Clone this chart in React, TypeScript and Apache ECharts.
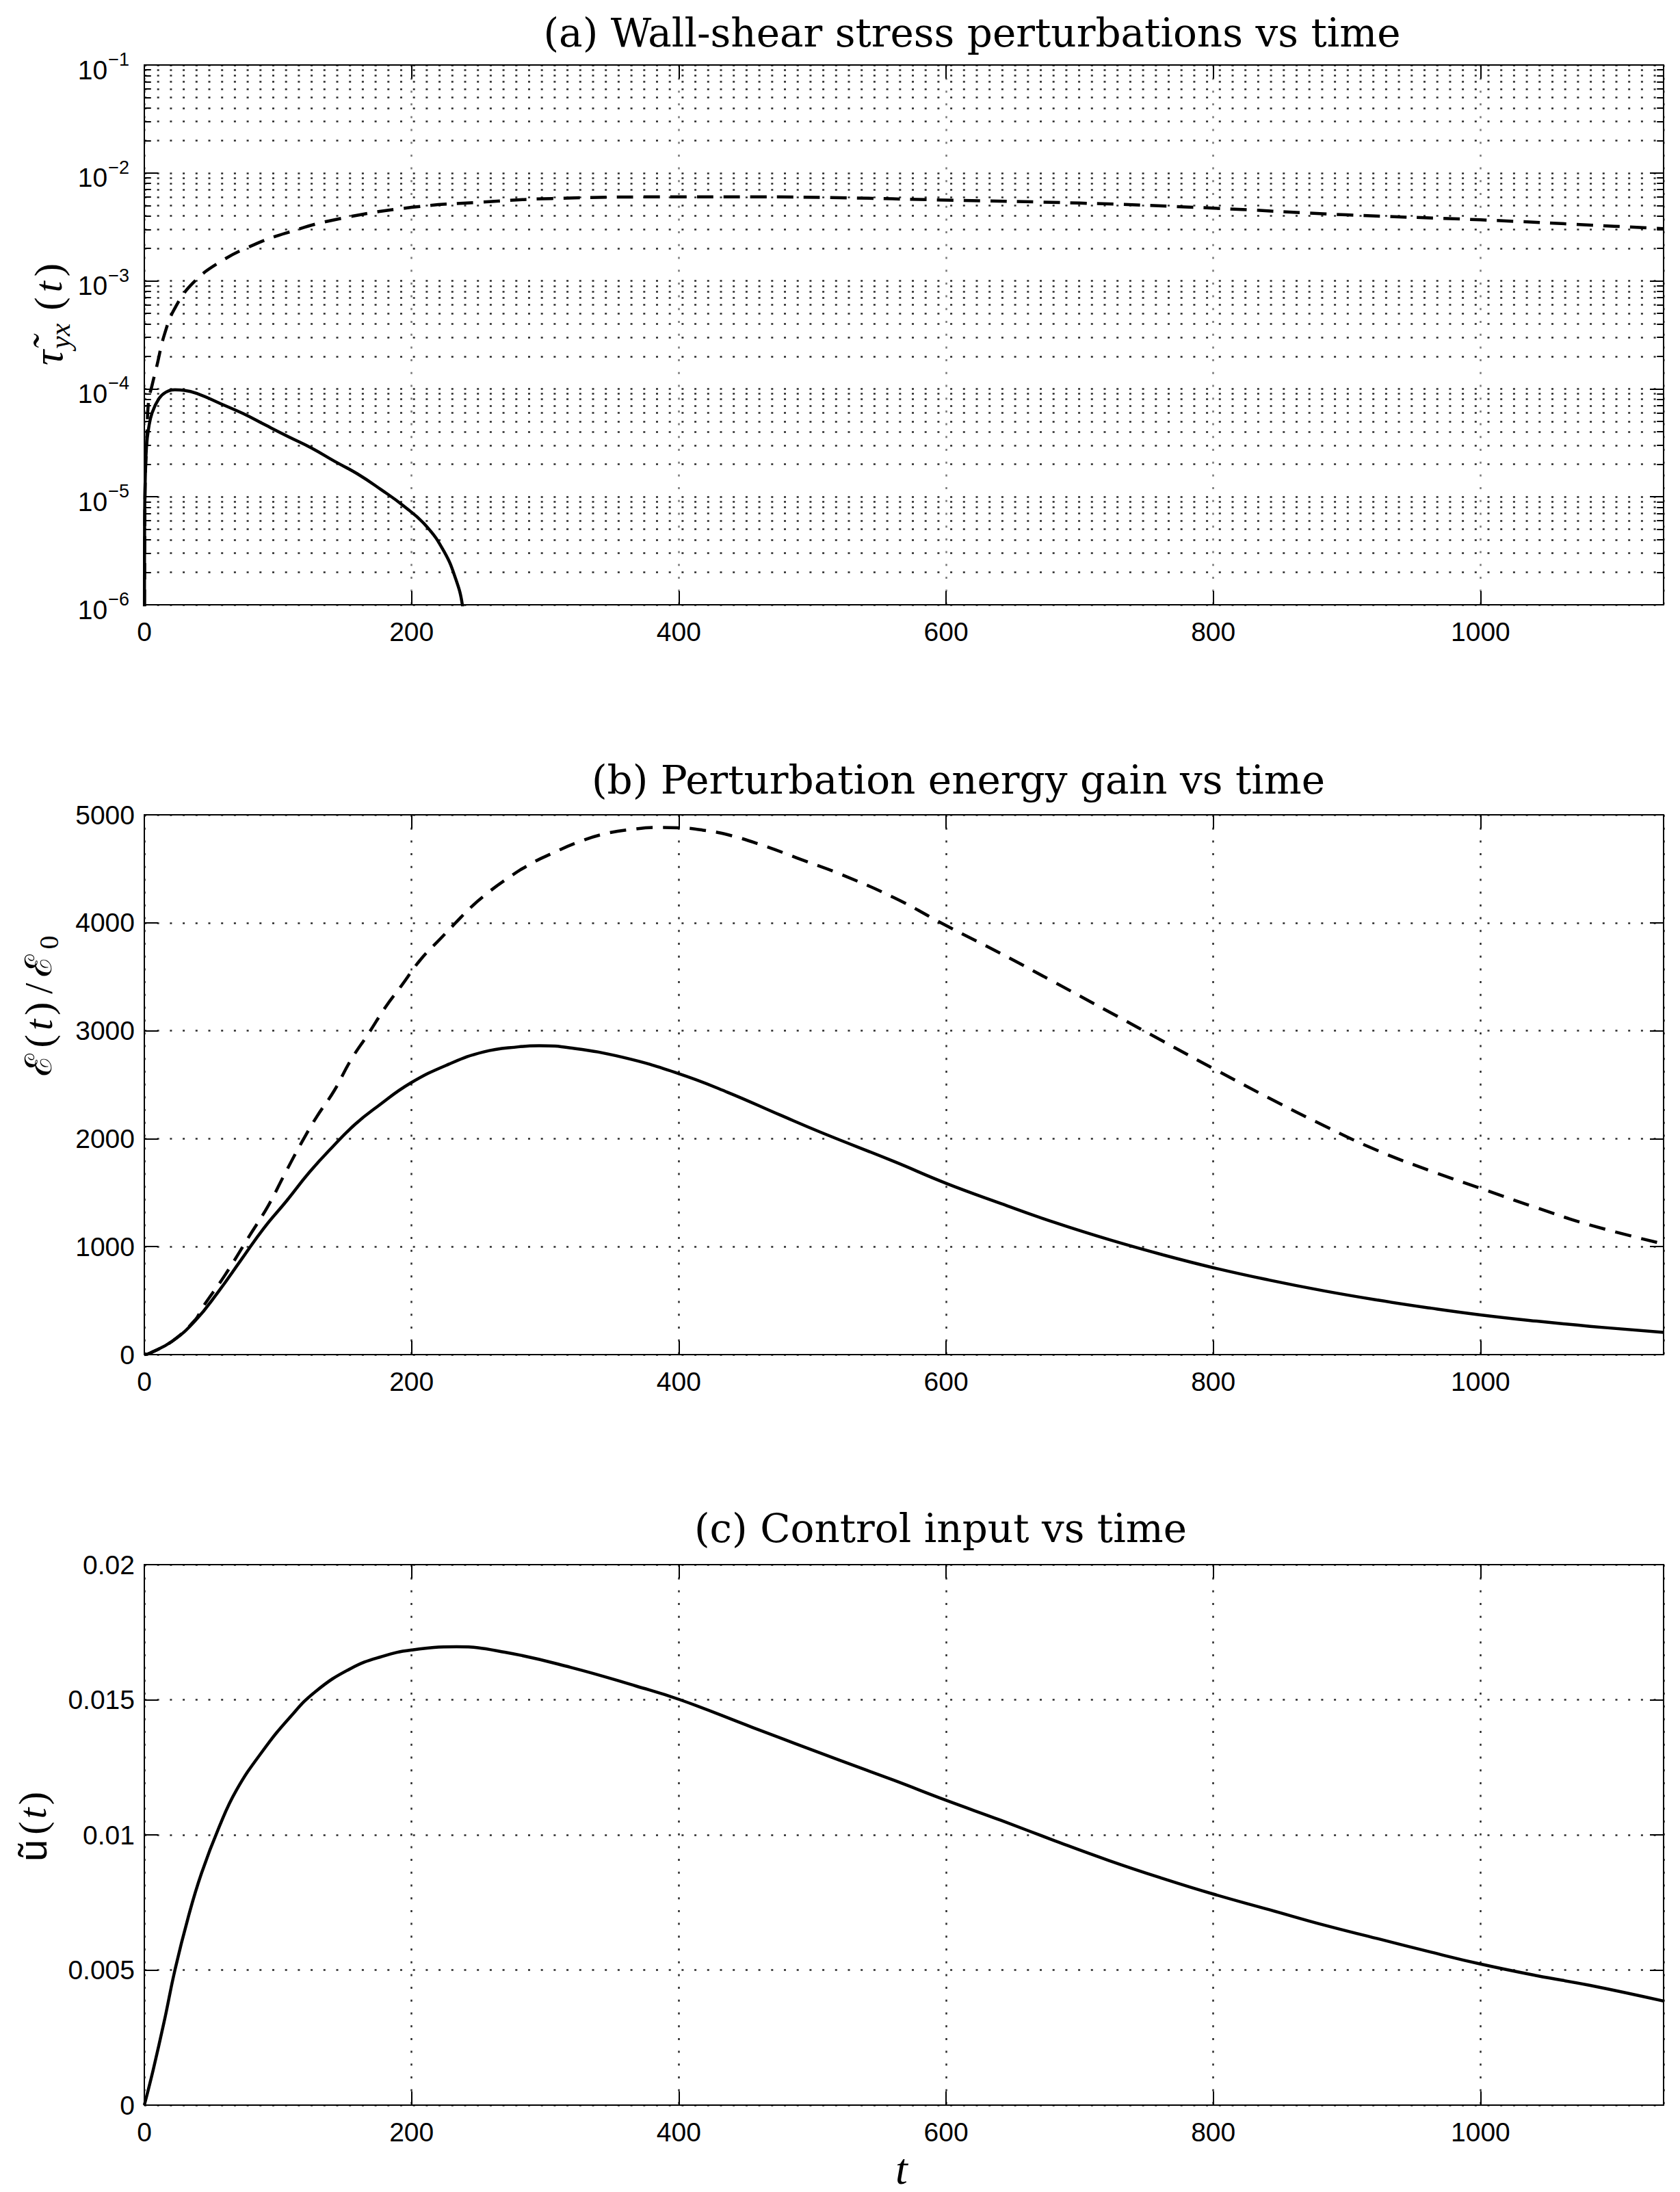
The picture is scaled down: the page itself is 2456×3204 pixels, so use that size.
import React, { useEffect, useRef } from 'react';
import * as echarts from 'echarts';

const W = 2456;
const H = 3204;
const T_MAX = 1137;
const X_STEP = 200;

// (a) wall-shear stress perturbations (log scale)
const tauSolidT = [0, 0.2, 0.7, 1.6, 3.2, 5.8, 10.9, 16, 22.9, 29.7, 40, 57, 74, 91, 108, 125, 142.5, 159.6, 176.6, 193.7, 210.8, 224.4, 233, 238, 241];
const tauSolidV = [1e-7, 5.6e-6, 1.5e-5, 2.9e-5, 4.3e-5, 6.0e-5, 8.1e-5, 9.3e-5, 9.8e-5, 9.7e-5, 9.0e-5, 7.3e-5, 5.9e-5, 4.6e-5, 3.6e-5, 2.84e-5, 2.13e-5, 1.63e-5, 1.18e-5, 8.3e-6, 5.4e-6, 3.1e-6, 1.74e-6, 1.0e-6, 4e-7];
const tauDashT = [0, 0.5, 2, 3.2, 5.8, 9.2, 15.2, 22.9, 36.5, 56.7, 81.9, 107, 143, 200, 251, 305, 400, 455, 520, 600, 700, 800, 900, 1000, 1100, 1137];
const tauDashV = [1e-7, 1e-5, 3.8e-5, 7.7e-5, 1.08e-4, 1.6e-4, 3.24e-4, 5.6e-4, 9.6e-4, 1.5e-3, 2.16e-3, 2.8e-3, 3.7e-3, 4.8e-3, 5.35e-3, 5.8e-3, 6.0e-3, 6.0e-3, 5.9e-3, 5.6e-3, 5.26e-3, 4.72e-3, 4.09e-3, 3.68e-3, 3.21e-3, 3.05e-3];

// (b) perturbation energy gain
const energySolidT = [0, 4.1, 21.2, 38.3, 55.3, 72.4, 89.5, 106.6, 123.6, 140.7, 157.8, 174.9, 199.1, 227.7, 253.8, 279.9, 295.6, 319, 358, 400, 436.5, 475.7, 506.5, 561, 600, 641, 681, 722, 762, 800, 842, 883, 923, 963, 1000, 1042, 1082, 1137];
const energySolidV = [0, 13, 127, 317, 581, 877, 1172, 1426, 1690, 1922, 2134, 2302, 2514, 2689, 2803, 2851, 2861, 2841, 2754, 2602, 2430, 2220, 2058, 1789, 1587, 1400, 1225, 1065, 925, 805, 690, 590, 505, 430, 368, 310, 262, 206];
const energyDashT = [0, 4.1, 21.2, 38.3, 43.4, 60.5, 77.5, 92.9, 104.9, 116.8, 128.7, 142.4, 154.4, 168, 180.7, 192.4, 206.8, 222.5, 233, 244.6, 253.8, 269.5, 290, 306, 324, 345, 366, 384, 400, 418, 436.5, 462.7, 488.8, 520, 561, 600, 641, 681, 722, 762, 800, 842, 883, 923, 963, 1000, 1042, 1082, 1137];
const energyDashV = [0, 13, 127, 325, 433, 739, 1077, 1383, 1669, 1944, 2197, 2451, 2725, 2978, 3223, 3417, 3660, 3864, 4000, 4146, 4245, 4392, 4552, 4647, 4744, 4825, 4867, 4883, 4880, 4858, 4816, 4718, 4599, 4455, 4233, 3975, 3715, 3450, 3175, 2905, 2650, 2375, 2120, 1890, 1700, 1540, 1360, 1200, 1025];

// (c) control input
const controlT = [0, 6.6, 14.8, 23, 32.9, 42.8, 55.9, 69, 88.8, 108.6, 128, 154.6, 177.7, 200, 233.6, 269.8, 319, 368.5, 401, 455, 520, 561, 600, 641, 681, 722, 762, 800, 842, 883, 923, 963, 1000, 1042, 1082, 1137];
const controlV = [0, 0.0013, 0.00308, 0.00502, 0.00696, 0.00858, 0.01028, 0.01166, 0.01312, 0.01433, 0.0153, 0.01616, 0.0166, 0.01684, 0.01696, 0.01676, 0.0162, 0.0155, 0.015, 0.01398, 0.01277, 0.01202, 0.01128, 0.01054, 0.00979, 0.00905, 0.00839, 0.00781, 0.00723, 0.00666, 0.00616, 0.00566, 0.00522, 0.00479, 0.00443, 0.00385];

// axis ticks
const LOG_DECADES = [-6, -5, -4, -3, -2];
const LOG_MINOR_MULT = [2, 3, 4, 5, 6, 7, 8, 9];
const ENERGY_MAX = 5000;
const ENERGY_STEP = 1000;
const CONTROL_MAX = 0.02;
const CONTROL_STEP = 0.005;

const TITLES = [
  '(a) Wall-shear stress perturbations vs time',
  '(b) Perturbation energy gain vs time',
  '(c) Control input vs time',
];

const GRIDS = [
  { left: 211, top: 95, width: 2221, height: 789 },
  { left: 211, top: 1191, width: 2221, height: 789 },
  { left: 211, top: 2287, width: 2221, height: 790 },
];
const TITLE_POS = [
  [1421, 48],
  [1401, 1140],
  [1375, 2234],
];

const SANS = 'Liberation Sans';
const SERIF = 'DejaVu Serif';
const MATH = 'Liberation Serif';
const TICK_FS = 39;
const GRID_DOT = { type: [3, 15.7] as any, color: '#2a2a2a', width: 2.5 };
const CURVE_W = 4.5;

const pairs = (t: number[], v: number[]) => t.map((x, i) => [x, v[i]]);

const minorVals: number[] = [];
LOG_DECADES.forEach((d) => LOG_MINOR_MULT.forEach((k) => minorVals.push(Number((k * Math.pow(10, d)).toPrecision(3)))));

const plainNum = (v: number) => String(Number(v.toPrecision(6)));

function xAxes(gi: number) {
  const common = {
    gridIndex: gi,
    type: 'value',
    min: 0,
    max: T_MAX,
    interval: X_STEP,
    axisLine: { show: true, onZero: false, lineStyle: { color: '#000', width: 2 } },
    axisTick: { show: true, inside: true, length: 20, lineStyle: { color: '#000', width: 2 } },
  };
  return [
    {
      ...common,
      position: 'bottom',
      axisLabel: {
        show: true,
        margin: 20,
        fontSize: TICK_FS,
        fontFamily: SANS,
        color: '#000',
        showMaxLabel: false,
        formatter: plainNum,
      },
      splitLine: { show: true, lineStyle: { ...GRID_DOT, color: gi === 0 ? '#777' : '#2a2a2a' } },
    },
    {
      ...common,
      position: 'top',
      axisLabel: { show: false },
      splitLine: { show: false },
    },
  ];
}

function yAxes(gi: number) {
  const line = { show: true, onZero: false, lineStyle: { color: '#000', width: 2 } };
  const tick = { show: true, inside: true, length: 20, lineStyle: { color: '#000', width: 2 } };
  let scale: any;
  let label: any;
  if (gi === 0) {
    scale = { type: 'log', logBase: 10, min: 1e-6, max: 1e-1 };
    label = {
      show: true,
      margin: 22,
      color: '#000',
      formatter: (v: number) => {
        const e = Math.round(Math.log10(v));
        return '{b|10}{s|\u2212' + Math.abs(e) + '}';
      },
      rich: {
        b: { fontSize: TICK_FS, fontFamily: SANS, color: '#000', padding: [14, 0, 0, 0] },
        s: { fontSize: 27, fontFamily: SANS, color: '#000', padding: [0, 0, 16, 1] },
      },
    };
  } else if (gi === 1) {
    scale = { type: 'value', min: 0, max: ENERGY_MAX, interval: ENERGY_STEP };
    label = { show: true, margin: 14, fontSize: TICK_FS, fontFamily: SANS, color: '#000', formatter: plainNum };
  } else {
    scale = { type: 'value', min: 0, max: CONTROL_MAX, interval: CONTROL_STEP };
    label = { show: true, margin: 14, fontSize: TICK_FS, fontFamily: SANS, color: '#000', formatter: plainNum };
  }
  return [
    {
      gridIndex: gi,
      ...scale,
      position: 'left',
      axisLine: line,
      axisTick: tick,
      axisLabel: label,
      splitLine: { show: true, lineStyle: GRID_DOT },
    },
    {
      gridIndex: gi,
      ...scale,
      position: 'right',
      axisLine: line,
      axisTick: tick,
      axisLabel: { show: false },
      splitLine: { show: false },
    },
  ];
}

function curve(gi: number, data: number[][], dashed: boolean) {
  return {
    type: 'line',
    xAxisIndex: gi * 2,
    yAxisIndex: gi * 2,
    data,
    symbol: 'none',
    showSymbol: false,
    smooth: 0.45,
    clip: true,
    z: 5,
    silent: true,
    lineStyle: { color: '#000', width: CURVE_W, type: dashed ? [24, 15] : 'solid', cap: 'butt', join: 'round' },
  };
}

const MINOR_TICK_T = 5;

function ylabel(x: number, y: number, text: string, rich: any) {
  return {
    type: 'text',
    x,
    y,
    rotation: Math.PI / 2,
    silent: true,
    style: { text, align: 'center', verticalAlign: 'middle', fill: '#000', rich },
  };
}

function buildOption() {
  const series: any[] = [
    curve(0, pairs(tauSolidT, tauSolidV), false),
    curve(0, pairs(tauDashT, tauDashV), true),
    curve(1, pairs(energySolidT, energySolidV), false),
    curve(1, pairs(energyDashT, energyDashV), true),
    curve(2, pairs(controlT, controlV), false),
    {
      type: 'line',
      xAxisIndex: 0,
      yAxisIndex: 0,
      data: [],
      z: 1,
      silent: true,
      markLine: {
        silent: true,
        animation: false,
        precision: 12,
        symbol: ['none', 'none'],
        label: { show: false },
        lineStyle: { ...GRID_DOT },
        data: minorVals.map((v) => ({ yAxis: v })),
      },
    },
    {
      type: 'line',
      xAxisIndex: 0,
      yAxisIndex: 0,
      data: [],
      z: 2,
      silent: true,
      markLine: {
        silent: true,
        animation: false,
        precision: 12,
        symbol: ['none', 'none'],
        label: { show: false },
        lineStyle: { type: 'solid', color: '#000', width: 2 },
        data: minorVals.flatMap((v) => [
          [{ coord: [0, v] }, { coord: [MINOR_TICK_T, v] }],
          [{ coord: [T_MAX - MINOR_TICK_T, v] }, { coord: [T_MAX, v] }],
        ]),
      },
    },
  ];

  const graphic: any[] = TITLES.map((t, i) => ({
    type: 'text',
    x: TITLE_POS[i][0],
    y: TITLE_POS[i][1],
    silent: true,
    style: {
      text: t,
      fontFamily: SERIF,
      fontSize: 58,
      fill: '#000',
      align: 'center',
      verticalAlign: 'middle',
    },
  }));

  graphic.push(
    ylabel(70, 456, '{g|\u03C4\u0303}{s|yx}{p|(}{i|t}{p|)}', {
      g: { fontFamily: MATH, fontStyle: 'italic', fontSize: 62, fill: '#000' },
      s: { fontFamily: MATH, fontStyle: 'italic', fontSize: 42, fill: '#000', padding: [36, 12, 0, 2] },
      p: { fontFamily: MATH, fontSize: 58, fill: '#000', padding: [0, 7, 0, 7] },
      i: { fontFamily: MATH, fontStyle: 'italic', fontSize: 58, fill: '#000' },
    })
  );
  graphic.push(
    ylabel(56, 1472, '{e|\u2130}{p|(}{i|t}{p|)}{p|/}{e|\u2130}{s|0}', {
      e: { fontFamily: SERIF, fontSize: 54, fill: '#000', padding: [0, 3, 0, 3] },
      s: { fontFamily: MATH, fontSize: 40, fill: '#000', padding: [30, 0, 0, 4] },
      p: { fontFamily: MATH, fontSize: 58, fill: '#000', padding: [0, 6, 0, 6] },
      i: { fontFamily: MATH, fontStyle: 'italic', fontSize: 58, fill: '#000' },
    })
  );
  graphic.push(
    ylabel(47, 2668, '{u|\u0169}{p|(}{i|t}{p|)}', {
      u: { fontFamily: SANS, fontSize: 58, fill: '#000', padding: [0, 3, 0, 0] },
      p: { fontFamily: MATH, fontSize: 58, fill: '#000', padding: [0, 4, 0, 4] },
      i: { fontFamily: MATH, fontStyle: 'italic', fontSize: 58, fill: '#000' },
    })
  );
  graphic.push({
    type: 'text',
    x: 1318,
    y: 3170,
    silent: true,
    style: {
      text: 't',
      fontFamily: MATH,
      fontStyle: 'italic',
      fontSize: 64,
      fill: '#000',
      align: 'center',
      verticalAlign: 'middle',
    },
  });

  return {
    animation: false,
    backgroundColor: '#fff',
    grid: GRIDS.map((g) => ({ ...g, containLabel: false })),
    xAxis: [0, 1, 2].flatMap((i) => xAxes(i)),
    yAxis: [0, 1, 2].flatMap((i) => yAxes(i)),
    series,
    graphic,
  };
}

export default function App() {
  const ref = useRef<HTMLDivElement>(null);
  useEffect(() => {
    if (!ref.current) return;
    const chart = echarts.init(ref.current, undefined, { renderer: 'svg', width: W, height: H });
    chart.setOption(buildOption() as any);
    return () => chart.dispose();
  }, []);
  return (
    <div
      ref={ref}
      style={{ position: 'fixed', left: 0, top: 0, width: W, height: H, background: '#fff' }}
    />
  );
}
